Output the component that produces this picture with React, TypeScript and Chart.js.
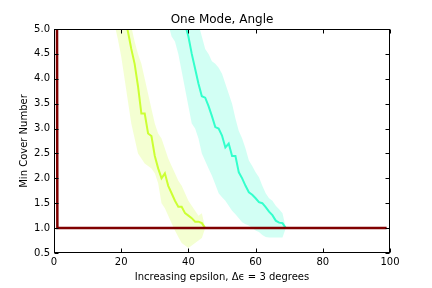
import { useEffect, useRef } from "react";
import { Chart, registerables } from "chart.js";

Chart.register(...registerables);

const TITLE = "One Mode, Angle";
const X_LABEL = "Increasing epsilon, Δϵ = 3 degrees";
const Y_LABEL = "Min Cover Number";

const X_TICKS = [0, 20, 40, 60, 80, 100];
const Y_TICKS = [0.5, 1.0, 1.5, 2.0, 2.5, 3.0, 3.5, 4.0, 4.5, 5.0];

// Yellow-green series (starts at x = 17)
const GREEN_START = 17;
const greenMean = [
  6.8, 6.4, 6.0, 5.6, 5.25, 4.95, 4.6, 4.3, 3.85, 3.3,
  3.3, 2.9, 2.85, 2.45, 2.2, 2.0, 2.1, 1.85, 1.7, 1.55,
  1.43, 1.43, 1.3, 1.25, 1.2, 1.13, 1.13, 1.1, 1.0,
];
const greenLower = [
  5.4, 5.1, 4.8, 4.45, 4.0, 3.55, 3.1, 2.8, 2.5, 2.4,
  2.3, 2.25, 2.2, 2.1, 1.9, 1.5, 1.4, 1.25, 1.1, 0.95,
  0.82, 0.7, 0.65, 0.6, 0.65, 0.7, 0.75, 0.8, 1.0,
];
const greenUpper = [
  7.8, 7.4, 7.0, 6.6, 6.1, 5.6, 5.05, 4.75, 4.5, 4.3,
  4.0, 3.7, 3.4, 3.1, 2.9, 2.8, 2.6, 2.4, 2.25, 2.1,
  1.95, 1.85, 1.7, 1.55, 1.45, 1.35, 1.25, 1.3, 1.0,
];

// Cyan series (starts at x = 33)
const CYAN_START = 33;
const cyanMean = [
  7.5, 7.1, 6.7, 6.3, 5.9, 5.5, 5.1, 4.85, 4.5, 4.2,
  3.9, 3.65, 3.62, 3.45, 3.25, 3.03, 3.0, 2.86, 2.62, 2.7,
  2.45, 2.45, 2.12, 2.0, 1.85, 1.72, 1.67, 1.6, 1.52, 1.5,
  1.42, 1.33, 1.26, 1.15, 1.11, 1.1, 1.0,
];
const cyanLower = [
  5.4, 5.1, 4.85, 4.75, 4.5, 4.15, 3.8, 3.45, 3.1, 3.0,
  2.8, 2.5, 2.35, 2.2, 2.05, 1.88, 1.7, 1.62, 1.55, 1.45,
  1.35, 1.28, 1.2, 1.12, 1.08, 1.05, 1.0, 0.95, 0.92, 0.86,
  0.82, 0.81, 0.81, 0.81, 0.81, 0.81, 1.0,
];
const cyanUpper = [
  9.0, 8.6, 8.2, 7.8, 7.4, 7.0, 6.6, 6.2, 5.8, 5.4,
  5.1, 4.85, 4.6, 4.5, 4.35, 4.3, 4.22, 4.1, 3.9, 3.7,
  3.5, 3.2, 2.95, 2.8, 2.6, 2.36, 2.25, 2.12, 2.02, 1.85,
  1.7, 1.6, 1.55, 1.45, 1.38, 1.3, 1.0,
];

// Dark red series (x = 0 .. 99)
const RED_START = 0;
const redMean = [
  40, 1, 1, 1, 1, 1, 1, 1, 1, 1,
  1, 1, 1, 1, 1, 1, 1, 1, 1, 1,
  1, 1, 1, 1, 1, 1, 1, 1, 1, 1,
  1, 1, 1, 1, 1, 1, 1, 1, 1, 1,
  1, 1, 1, 1, 1, 1, 1, 1, 1, 1,
  1, 1, 1, 1, 1, 1, 1, 1, 1, 1,
  1, 1, 1, 1, 1, 1, 1, 1, 1, 1,
  1, 1, 1, 1, 1, 1, 1, 1, 1, 1,
  1, 1, 1, 1, 1, 1, 1, 1, 1, 1,
  1, 1, 1, 1, 1, 1, 1, 1, 1, 1,
];

const GREEN = "#ccff33";
const GREEN_BAND = "rgba(204,255,51,0.22)";
const CYAN = "#33ffcc";
const CYAN_BAND = "rgba(51,255,204,0.22)";
const RED = "#800000";

const pts = (arr: number[], start: number) => arr.map((v, i) => ({ x: start + i, y: v }));

const framePlugin = {
  id: "frame",
  afterDraw(chart: any) {
    const { ctx, chartArea: a } = chart;
    const xs = chart.scales.x;
    const ys = chart.scales.y;
    const L = Math.round(a.left) + 0.5;
    const R = Math.round(a.right) - 0.5;
    const T = Math.round(a.top) + 0.5;
    const B = Math.round(a.bottom) - 0.5;
    ctx.save();
    ctx.strokeStyle = "#000";
    ctx.lineWidth = 1;
    ctx.strokeRect(L, T, R - L, B - T);
    ctx.beginPath();
    X_TICKS.forEach((v) => {
      const p = Math.round(xs.getPixelForValue(v)) + 0.5;
      ctx.moveTo(p, B);
      ctx.lineTo(p, B - 4);
      ctx.moveTo(p, T);
      ctx.lineTo(p, T + 4);
    });
    Y_TICKS.forEach((v) => {
      const p = Math.round(ys.getPixelForValue(v)) + 0.5;
      ctx.moveTo(L, p);
      ctx.lineTo(L + 4, p);
      ctx.moveTo(R, p);
      ctx.lineTo(R - 4, p);
    });
    ctx.stroke();
    ctx.restore();
  },
};

export default function App() {
  const ref = useRef<HTMLCanvasElement | null>(null);

  useEffect(() => {
    if (!ref.current) return;
    Chart.defaults.font.family = "'DejaVu Sans', sans-serif";
    Chart.defaults.color = "#000";
    const band = (lower: number[], upper: number[], start: number, color: string, order: number) => [
      {
        data: pts(lower, start),
        borderWidth: 0,
        pointRadius: 0,
        fill: false,
        order,
      },
      {
        data: pts(upper, start),
        borderWidth: 0,
        pointRadius: 0,
        backgroundColor: color,
        fill: "-1",
        order,
      },
    ];
    const chart = new Chart(ref.current, {
      type: "line",
      data: {
        datasets: [
          ...band(greenLower, greenUpper, GREEN_START, GREEN_BAND, 5),
          ...band(cyanLower, cyanUpper, CYAN_START, CYAN_BAND, 5),
          { data: pts(greenMean, GREEN_START), borderColor: GREEN, borderWidth: 2, pointRadius: 0, fill: false, order: 2 },
          { data: pts(cyanMean, CYAN_START), borderColor: CYAN, borderWidth: 2, pointRadius: 0, fill: false, order: 2 },
          { data: pts(redMean, RED_START), borderColor: RED, borderWidth: 2.5, pointRadius: 0, fill: false, order: 0 },
        ] as any,
      },
      options: {
        animation: false,
        responsive: false,
        events: [],
        layout: { padding: { left: 0, right: 42, top: 0, bottom: 0 } },
        elements: { line: { tension: 0, borderJoinStyle: "miter" } },
        plugins: {
          legend: { display: false },
          tooltip: { enabled: false },
          title: {
            display: true,
            text: TITLE,
            fullSize: false,
            font: { size: 12, weight: "normal" },
            color: "#000",
            padding: { top: 13, bottom: 1.6 },
          },
        },
        scales: {
          x: {
            type: "linear",
            min: 0,
            max: 100,
            afterFit: (s: any) => {
              s.height = 35;
            },
            afterBuildTicks: (s: any) => {
              s.ticks = X_TICKS.map((v) => ({ value: v }));
            },
            grid: { display: false, drawTicks: false },
            border: { display: false },
            ticks: { font: { size: 10 }, padding: 3, maxRotation: 0, callback: (v: any) => String(v) },
            title: { display: true, text: X_LABEL, font: { size: 10 }, padding: { top: 0, bottom: 5 } },
          },
          y: {
            type: "linear",
            min: 0.5,
            max: 5,
            afterFit: (s: any) => {
              s.width = 54;
            },
            afterBuildTicks: (s: any) => {
              s.ticks = Y_TICKS.map((v) => ({ value: v }));
            },
            grid: { display: false, drawTicks: false },
            border: { display: false },
            ticks: { font: { size: 10 }, padding: 4, callback: (v: any) => Number(v).toFixed(1) },
            title: { display: true, text: Y_LABEL, font: { size: 10 }, padding: { top: 18, bottom: 0 } },
          },
        },
      },
      plugins: [framePlugin],
    });
    return () => chart.destroy();
  }, []);

  return (
    <div style={{ position: "absolute", left: 0, top: 0, width: 432, height: 288, background: "#fff" }}>
      <canvas ref={ref} width={432} height={288} />
    </div>
  );
}
